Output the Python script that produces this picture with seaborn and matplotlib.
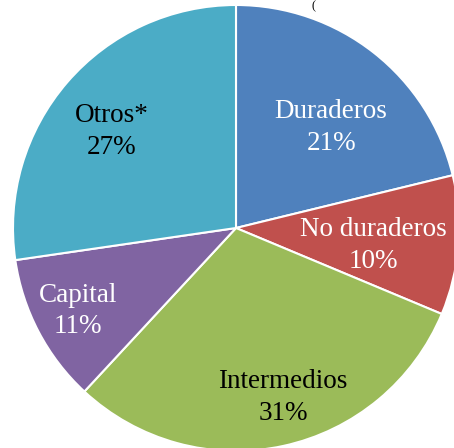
import numpy as np
import matplotlib
matplotlib.use("Agg")
import matplotlib.pyplot as plt
import seaborn as sns

# shares (labels show rounded values)
categories = ["Duraderos", "No duraderos", "Intermedios", "Capital", "Otros*"]
shares = [21.2, 10.1, 30.6, 10.8, 27.3]
colors = ["#4F81BD", "#C0504D", "#9BBB59", "#8064A2", "#4BACC6"]
text_colors = ["white", "white", "black", "white", "black"]

sns.set_theme(style="white")
plt.rcParams['font.family'] = ['Liberation Serif', 'DejaVu Serif']

fig = plt.figure(figsize=(4.54, 4.48), dpi=100)
# place the pie so it sits like the original (slightly cut at right / bottom)
ax = fig.add_axes([13 / 454, -3 / 448, 446 / 454, 446 / 448])

wedges, _ = ax.pie(shares, colors=colors, startangle=90, counterclock=False,
                   radius=1.0,
                   wedgeprops={"edgecolor": "white", "linewidth": 1.5})
ax.set_xlim(-1, 1)
ax.set_ylim(-1, 1)
ax.set_aspect("auto")
ax.axis("off")

# label placement per slice: distance from centre (fraction of radius)
# and small angle shift from the wedge middle, like the Excel layout
label_r = [0.62, 0.62, 0.79, 0.80, 0.705]
label_shift = [-5.3, -2.9, 3.2, 0.0, 3.0]
total = sum(shares)
for w, name, val, tc, r, sh in zip(wedges, categories, shares, text_colors,
                                   label_r, label_shift):
    mid = np.deg2rad((w.theta1 + w.theta2) / 2 + sh)
    x, y = r * np.cos(mid), r * np.sin(mid)
    ax.text(x, y, f"{name}\n{round(val / total * 100):.0f}%", ha="center", va="center",
            color=tc, fontsize=19.5, linespacing=1.35)

# remnant of the cropped title
fig.text(313 / 454, 0.999, "(", ha="center", va="top", fontsize=9, color="black")

fig.savefig("out.png", dpi=100)
